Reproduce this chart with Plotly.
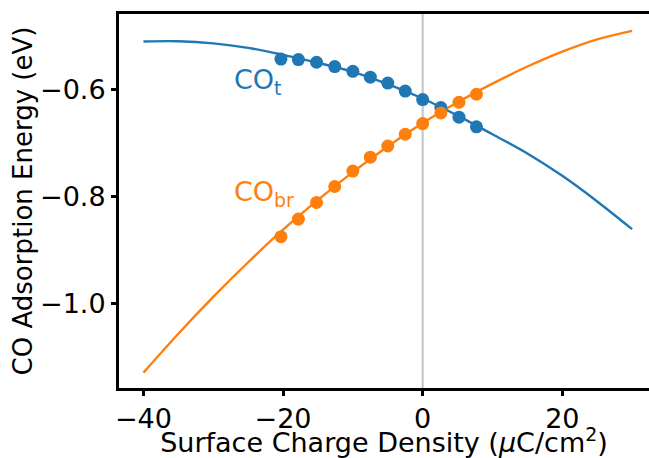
import plotly.graph_objects as go

# fitted curves at 5 uC/cm2 steps
sigma_fit = [-40, -35, -30, -25, -20, -15, -10, -5, 0, 5, 10, 15, 20, 25, 30]
e_top_fit = [-0.509, -0.5085, -0.5125, -0.521, -0.534, -0.549, -0.566, -0.589,
             -0.616, -0.648, -0.683, -0.719, -0.761, -0.809, -0.861]
e_br_fit = [-1.130, -1.057, -0.988, -0.923, -0.862, -0.806, -0.754, -0.706,
            -0.662, -0.623, -0.588, -0.556, -0.528, -0.505, -0.489]

# computed points
sigma_pts = [-20.3, -17.8, -15.2, -12.6, -10.0, -7.5, -5.0, -2.5, 0.0, 2.6, 5.2, 7.7]
e_top_pts = [-0.542, -0.543, -0.548, -0.556, -0.565, -0.576, -0.587, -0.602,
             -0.618, -0.633, -0.651, -0.669]
e_br_pts = [-0.875, -0.842, -0.811, -0.781, -0.752, -0.726, -0.705, -0.683,
            -0.663, -0.643, -0.623, -0.608]

blue = '#1f77b4'
orange = '#ff7f0e'
font = 'DejaVu Sans'

fig = go.Figure()

fig.add_trace(go.Scatter(x=sigma_fit, y=e_top_fit, mode='lines', line_shape='spline',
                         line=dict(color=blue, width=2.4)))
fig.add_trace(go.Scatter(x=sigma_fit, y=e_br_fit, mode='lines', line_shape='spline',
                         line=dict(color=orange, width=2.4)))
fig.add_trace(go.Scatter(x=sigma_pts, y=e_top_pts, mode='markers',
                         marker=dict(color=blue, size=13)))
fig.add_trace(go.Scatter(x=sigma_pts, y=e_br_pts, mode='markers',
                         marker=dict(color=orange, size=13)))

# zero charge line
fig.add_vline(x=0, line=dict(color='#c4c4c4', width=2), layer='below')

fig.add_annotation(x=-27.3, y=-0.584, xref='x', yref='y', text='CO<sub>t</sub>',
                   showarrow=False, xanchor='left', yanchor='middle',
                   font=dict(family=font, size=27, color=blue))
fig.add_annotation(x=-27.3, y=-0.794, xref='x', yref='y', text='CO<sub>br</sub>',
                   showarrow=False, xanchor='left', yanchor='middle',
                   font=dict(family=font, size=27, color=orange))

# plot area runs to the right edge, so the right spine is cropped off like the original
fig.update_layout(
    width=649, height=458,
    margin=dict(l=119, r=0, t=14, b=70),
    paper_bgcolor='white', plot_bgcolor='white',
    showlegend=False,
    font=dict(family=font, size=27, color='black'),
    xaxis=dict(
        range=[-43.5, 32.42],
        tickvals=[-40, -20, 0, 20],
        showgrid=False, zeroline=False,
        showline=True, linecolor='black', linewidth=3, mirror=True,
        ticks='outside', ticklen=5, tickwidth=2.5, tickcolor='black',
        title=dict(text='Surface Charge Density (<i>μ</i>C/cm<sup>2</sup>)',
                   font=dict(size=27), standoff=3),
    ),
    yaxis=dict(
        range=[-1.1588, -0.4575],
        tickvals=[-1.0, -0.8, -0.6],
        tickformat='.1f',
        showgrid=False, zeroline=False,
        showline=True, linecolor='black', linewidth=3, mirror=False,
        ticks='outside', ticklen=5, tickwidth=2.5, tickcolor='black',
        title=dict(text='CO Adsorption Energy (eV)', font=dict(size=26), standoff=0),
    ),
)

# drop the default body margin so the figure sits at the window corner
fig.write_html('out.html', config={'displayModeBar': False},
               post_script="document.body.style.margin='0';"
                           "document.body.style.overflow='hidden';")
